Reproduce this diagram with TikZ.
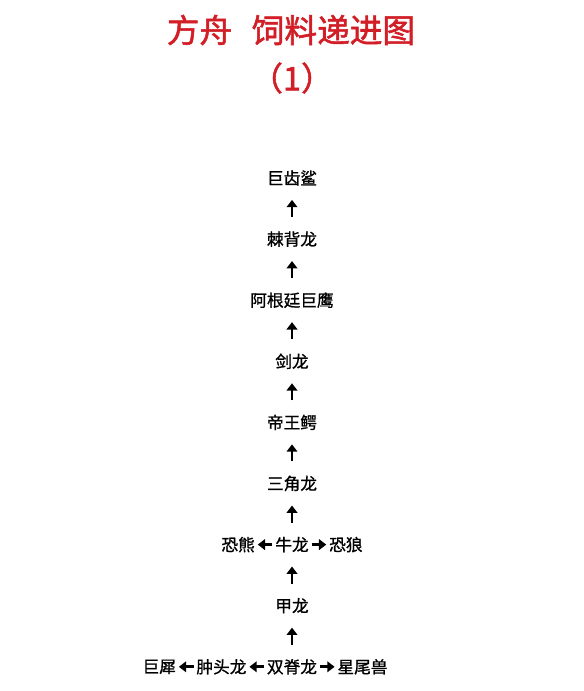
\documentclass[tikz,border=0pt]{standalone}
\usepackage{fontspec}
\setmainfont{Noto Sans CJK SC}
\newfontfamily\feedfont{Noto Sans CJK SC}[FakeBold=1]
\newfontfamily\titlefont{Noto Sans CJK SC}[FakeBold=1.6]
\usetikzlibrary{arrows.meta,positioning}
\definecolor{titlered}{RGB}{210,30,38}

\begin{document}
\begin{tikzpicture}[x=0.75pt,y=-0.75pt,
    feed/.style={font=\feedfont\fontsize{12.5}{14}\selectfont, inner sep=0pt},
    up/.style={-{Triangle[length=5.5pt,width=8pt]}, line width=2.2pt, shorten >=10.5pt, shorten <=10.5pt},
    side/.style={-{Triangle[length=5.5pt,width=8pt]}, line width=2.2pt, shorten >=2pt, shorten <=2pt}]
    \useasboundingbox (0,0) rectangle (584,691);
    % Title
    \node[text=titlered, font=\titlefont\fontsize{24.5}{28}\selectfont] (Title) at (291,30) {方舟\hspace{0.6em}饲料递进图};
    \node[text=titlered, font=\titlefont\fontsize{24.5}{28}\selectfont] (Part) at (292,78) {（1）};
    % Main chain
    \foreach \name/\i in {巨齿鲨/1,棘背龙/2,阿根廷巨鹰/3,剑龙/4,帝王鳄/5,三角龙/6,牛龙/7,甲龙/8,双脊龙/9} {
        \node[feed] (Food-\i) at (292,178+61.1*\i-61.1) {\name};
    }
    % Side branches
    \node[feed, left=15pt of Food-7] (Bear) {恐熊};
    \node[feed, right=15pt of Food-7] (Wolf) {恐狼};
    \node[feed, left=15pt of Food-9] (Pachy) {肿头龙};
    \node[feed, left=15pt of Pachy] (Rhino) {巨犀};
    \node[feed, right=15pt of Food-9] (Doed) {星尾兽};
    % Arrows
    \foreach \i [evaluate=\i as \j using int(\i+1)] in {1,...,8} {
        \draw[up] (Food-\j) -- (Food-\i);
    }
    \draw[side] (Food-7) -- (Bear);
    \draw[side] (Food-7) -- (Wolf);
    \draw[side] (Food-9) -- (Pachy);
    \draw[side] (Pachy) -- (Rhino);
    \draw[side] (Food-9) -- (Doed);
\end{tikzpicture}
\end{document}
